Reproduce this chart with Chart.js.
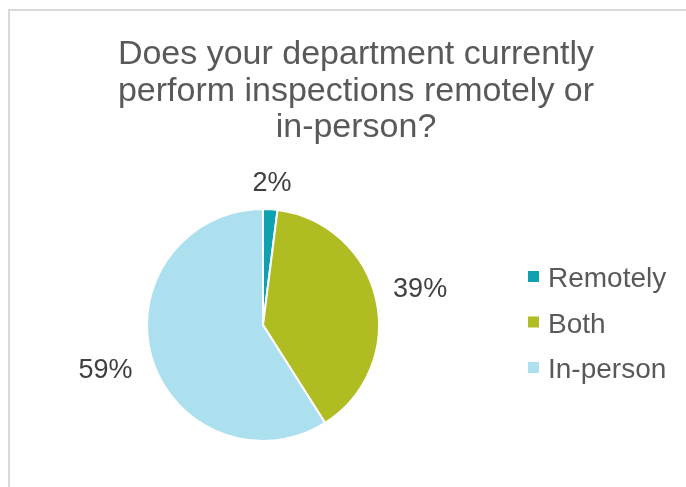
<!DOCTYPE html>
<html lang="en">
<head>
  <meta charset="UTF-8">
  <title>Inspections</title>
  <script src="https://cdn.jsdelivr.net/npm/chart.js"></script>
  <style>
    html, body { margin: 0; padding: 0; background: #fff; }
    #wrap { position: relative; width: 686px; height: 487px; overflow: hidden; }
    #frame {
      position: absolute; left: 8px; top: 9px; width: 700px; height: 500px;
      border-top: 2px solid #d9d9d9; border-left: 2px solid #d9d9d9;
    }
    canvas { position: absolute; left: 0; top: 0; }
  </style>
</head>
<body>
  <div id="wrap">
    <div id="frame"></div>
    <canvas id="pie" width="686" height="487"></canvas>
  </div>

  <script>
    const titleLines = ['Does your department currently', 'perform inspections remotely or', 'in-person?'];
    const categories = ['Remotely', 'Both', 'In-person'];
    const shares = [2, 39, 59];
    const sliceColors = ['#0FA1AF', '#AFBD22', '#ADE0EE'];

    const FONT = '"Liberation Sans", Arial, sans-serif';

    // title, legend and percent labels drawn on the canvas
    const textPlugin = {
      id: 'texts',
      afterDraw(chart) {
        const ctx = chart.ctx;
        ctx.save();

        ctx.fillStyle = '#595959';
        ctx.font = '34px ' + FONT;
        ctx.textAlign = 'center';
        ctx.textBaseline = 'alphabetic';
        titleLines.forEach((line, i) => ctx.fillText(line, 356, 64 + i * 36.5));

        // legend
        ctx.font = '28px ' + FONT;
        ctx.textAlign = 'left';
        categories.forEach((name, i) => {
          const base = 287 + i * 45.5;
          ctx.fillStyle = sliceColors[i];
          ctx.fillRect(528, base - 16, 11, 11);
          ctx.fillStyle = '#595959';
          ctx.fillText(name, 548, base);
        });

        // percentage labels outside each slice
        const meta = chart.getDatasetMeta(0);
        const total = shares.reduce((a, b) => a + b, 0);
        ctx.fillStyle = '#404040';
        ctx.font = '27px ' + FONT;
        ctx.textAlign = 'center';
        ctx.textBaseline = 'middle';
        const extra = [26, 45, 48];
        meta.data.forEach((arc, i) => {
          const mid = (arc.startAngle + arc.endAngle) / 2;
          const r = arc.outerRadius + extra[i];
          const x = arc.x + Math.cos(mid) * r;
          const y = arc.y + Math.sin(mid) * r;
          ctx.fillText(Math.round(shares[i] / total * 100) + '%', x, y);
        });

        ctx.restore();
      }
    };

    new Chart(document.getElementById('pie'), {
      type: 'pie',
      data: {
        labels: categories,
        datasets: [{
          data: shares,
          backgroundColor: sliceColors,
          borderColor: '#ffffff',
          borderWidth: 2
        }]
      },
      options: {
        responsive: false,
        animation: false,
        layout: { padding: { left: 146, right: 306, top: 208, bottom: 45 } },
        plugins: {
          legend: { display: false },
          title: { display: false },
          tooltip: { enabled: false }
        }
      },
      plugins: [textPlugin]
    });
  </script>
</body>
</html>
